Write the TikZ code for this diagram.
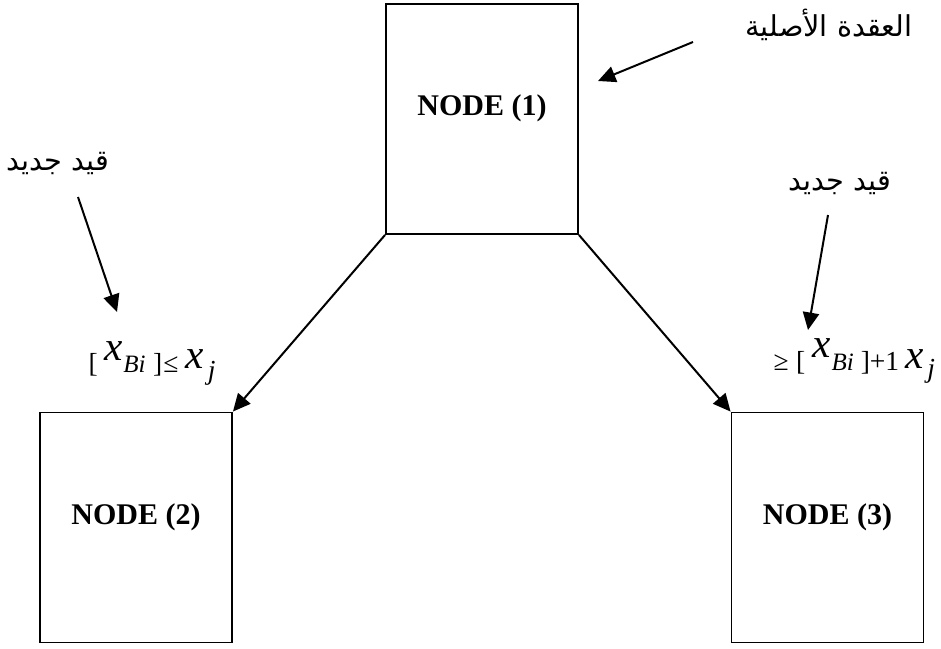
\documentclass[tikz,border=0pt]{standalone}
\usepackage{fontspec}
\usepackage{tikz}
\usetikzlibrary{arrows.meta}
\setmainfont{Liberation Serif}
\newfontfamily\arabicfont[Script=Arabic]{DejaVu Sans}
\TeXXeTstate=1

% font sizes used in the constraint labels
\newcommand{\smallsz}{\fontsize{11}{12}\selectfont}
\newcommand{\subsz}{\fontsize{10}{11}\selectfont}
\newcommand{\bigsz}{\fontsize{16.5}{18}\selectfont}

\tikzset{
  treebox/.style={draw,line width=0.75pt,minimum width=76.8pt,minimum height=92pt,
    text depth=11pt,font=\fontsize{12}{14}\selectfont\bfseries},
  arlabel/.style={font=\fontsize{11.5}{14}\selectfont\arabicfont,inner sep=0pt},
  conslabel/.style={anchor=base west,inner sep=0pt},
  branch/.style={line width=0.8pt,-{Triangle[length=7pt,width=6.5pt]}}
}

\begin{document}
\begin{tikzpicture}[x=0.4pt,y=-0.4pt]
\path[use as bounding box,fill=white] (0,0) rectangle (941,648);

% the three nodes of the tree
\node[treebox] (node1) at (482,119) {NODE (1)};
\node[treebox] (node2) at (136,527.5) {NODE (2)};
\node[treebox] (node3) at (827.5,527.5) {NODE (3)};

\draw[branch] (node1.south west) -- (node2.north east);
\draw[branch] (node1.south east) -- (node3.north west);

% labels and pointers
\node[arlabel] (rootlbl) at (829,25) {\beginR العقدة الأصلية\endR};
\node[arlabel] (newleft) at (58,163) {\beginR قيد جديد\endR};
\node[arlabel] (newright) at (840,183) {\beginR قيد جديد\endR};

\coordinate (rootfrom) at (693,42);
\coordinate (rootto) at (598,81);
\coordinate (leftfrom) at (78,197);
\coordinate (leftto) at (117,312);
\coordinate (rightfrom) at (828,215);
\coordinate (rightto) at (808,330);

\draw[branch] (rootfrom) -- (rootto);
\draw[branch] (leftfrom) -- (leftto);
\draw[branch] (rightfrom) -- (rightto);

% branching constraints
\node[conslabel] (conleft) at (88,372) {{\smallsz[}\hspace{2.8pt}\raisebox{4.8pt}{\bigsz\textit{x}}\hspace{0.2pt}{\subsz\textit{Bi}}\hspace{3pt}{\smallsz]\hspace{0.4pt}≤}\hspace{3pt}\raisebox{1.6pt}{\bigsz\textit{x}}\hspace{1.5pt}\raisebox{-3pt}{\smallsz\textit{j}}};
\node[conslabel] (conright) at (773,370) {{\smallsz≥}\hspace{3pt}{\smallsz[}\hspace{3pt}\raisebox{5.2pt}{\bigsz\textit{x}}\hspace{0.2pt}{\subsz\textit{Bi}}\hspace{2.8pt}{\smallsz]+1}\hspace{2.4pt}\raisebox{0.8pt}{\bigsz\textit{x}}\hspace{1.5pt}\raisebox{-3pt}{\smallsz\textit{j}}};
\end{tikzpicture}
\end{document}
